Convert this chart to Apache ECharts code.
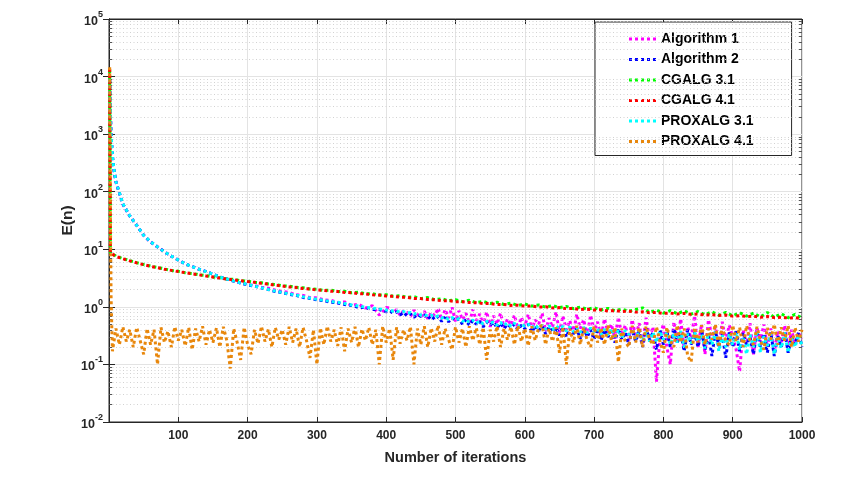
<!DOCTYPE html>
<html>
<head>
<meta charset="utf-8">
<script src="https://cdn.jsdelivr.net/npm/echarts@6/dist/echarts.min.js"></script>
<style>
  html, body { margin: 0; padding: 0; background: #fff; }
  #main { width: 843px; height: 492px; }
</style>
</head>
<body>
<div id="main"></div>
<script>
var names = ['Algorithm 1', 'Algorithm 2', 'CGALG 3.1', 'CGALG 4.1', 'PROXALG 3.1', 'PROXALG 4.1'];
var colors = ['#ff00ff', '#0000ff', '#00ff00', '#ff0000', '#00ffff', '#e8870c'];

// iterations of the first few points
var headA = [1, 2, 3, 5, 7];
var headC = [1, 2];
var headP = [1, 2, 3, 4];

// Algorithm 1: head, then n = 10..400 step 10, then n = 405..1000 step 5
var alg1Head = [9000, 2500, 980, 410, 245];
var alg1 = [148, 61, 38, 26, 17.5, 13.4, 11, 9, 7.6, 6.5, 5.6, 5.0, 4.5, 4.1, 3.7, 3.3, 3.05, 2.8, 2.6, 2.45,
  2.35, 2.2, 2.1, 1.95, 1.85, 1.78, 1.62, 1.58, 1.45, 1.44, 1.32, 1.3, 1.18, 1.22, 1.05, 1.12, 0.95, 1.05, 0.72, 0.98];
var alg1Tail = [0.95, 0.78, 0.9, 0.72, 0.86, 0.8, 0.68, 0.88, 0.74, 0.66,
  0.84, 0.62, 0.8, 0.7, 0.95, 0.6, 0.9, 0.64, 0.98, 0.56,
  0.85, 0.6, 0.78, 0.52, 0.9, 0.58, 0.75, 0.48, 0.82, 0.45,
  0.7, 0.5, 0.78, 0.44, 0.62, 0.48, 0.72, 0.42, 0.66, 0.46,
  0.75, 0.4, 0.6, 0.5, 0.78, 0.38, 0.64, 0.44, 0.82, 0.36,
  0.7, 0.4, 0.58, 0.34, 0.75, 0.42, 0.6, 0.32, 0.72, 0.38,
  0.55, 0.3, 0.62, 0.36, 0.5, 0.28, 0.66, 0.32, 0.48, 0.26,
  0.6, 0.3, 0.52, 0.22, 0.65, 0.28, 0.45, 0.05, 0.3, 0.5,
  0.2, 0.1, 0.55, 0.25, 0.62, 0.18, 0.45, 0.28, 0.7, 0.2,
  0.5, 0.15, 0.6, 0.3, 0.45, 0.2, 0.55, 0.26, 0.48, 0.3,
  0.18, 0.075, 0.4, 0.22, 0.52, 0.15, 0.44, 0.25, 0.5, 0.2,
  0.42, 0.16, 0.38, 0.24, 0.48, 0.18, 0.4, 0.22, 0.35, 0.28];

// Algorithm 2
var alg2Head = [9000, 2500, 980, 410, 245];
var alg2 = [148, 61, 38, 26, 17.5, 13.4, 11, 9, 7.6, 6.5, 5.6, 5.0, 4.5, 4.1, 3.7, 3.3, 3.05, 2.8, 2.6, 2.4,
  2.28, 2.12, 2.0, 1.85, 1.76, 1.65, 1.58, 1.46, 1.4, 1.32, 1.28, 1.2, 1.17, 1.1, 1.06, 0.98, 0.97, 0.9, 0.9, 0.82];
var alg2Tail = [0.85, 0.78, 0.82, 0.72, 0.8, 0.7, 0.76, 0.66, 0.74, 0.68,
  0.72, 0.62, 0.7, 0.6, 0.68, 0.56, 0.66, 0.55, 0.64, 0.58,
  0.62, 0.5, 0.6, 0.48, 0.58, 0.5, 0.56, 0.45, 0.55, 0.48,
  0.54, 0.43, 0.52, 0.42, 0.5, 0.44, 0.5, 0.4, 0.48, 0.42,
  0.5, 0.36, 0.47, 0.38, 0.46, 0.34, 0.45, 0.36, 0.44, 0.32,
  0.45, 0.3, 0.43, 0.34, 0.42, 0.28, 0.44, 0.3, 0.4, 0.27,
  0.42, 0.26, 0.4, 0.3, 0.38, 0.24, 0.42, 0.27, 0.36, 0.22,
  0.4, 0.25, 0.38, 0.2, 0.42, 0.27, 0.36, 0.18, 0.4, 0.22,
  0.38, 0.2, 0.42, 0.24, 0.35, 0.17, 0.4, 0.22, 0.36, 0.2,
  0.4, 0.18, 0.34, 0.14, 0.38, 0.21, 0.33, 0.13, 0.36, 0.2,
  0.4, 0.17, 0.35, 0.22, 0.3, 0.15, 0.38, 0.2, 0.34, 0.16,
  0.36, 0.14, 0.32, 0.2, 0.38, 0.16, 0.3, 0.22, 0.36, 0.2];

// CGALG 3.1: head, then n = 10..1000 step 10
var cg3Head = [13000, 8.8];
var cg3 = [7.6, 6.9, 6.35, 5.85, 5.45, 5.1, 4.85, 4.55, 4.3, 4.15, 3.9, 3.8, 3.6, 3.5, 3.3, 3.2, 3.05, 3.0, 2.85, 2.8,
  2.68, 2.62, 2.5, 2.45, 2.32, 2.28, 2.18, 2.15, 2.05, 2.03, 1.93, 1.95, 1.85, 1.86, 1.76, 1.8, 1.68, 1.7, 1.6, 1.63,
  1.53, 1.56, 1.46, 1.5, 1.39, 1.45, 1.33, 1.38, 1.28, 1.33, 1.23, 1.3, 1.18, 1.24, 1.14, 1.2, 1.1, 1.16, 1.06, 1.12,
  1.03, 1.08, 0.99, 1.05, 0.97, 1.02, 0.93, 0.99, 0.91, 0.96, 0.88, 0.94, 0.86, 0.91, 0.84, 0.9, 0.96, 0.8, 0.88, 0.78,
  0.86, 0.76, 0.85, 0.75, 0.83, 0.73, 0.82, 0.72, 0.8, 0.7, 0.79, 0.69, 0.78, 0.67, 0.8, 0.66, 0.76, 0.65, 0.74, 0.64];

// CGALG 4.1
var cg4Head = [13500, 8.7];
var cg4 = [7.5, 6.85, 6.3, 5.8, 5.4, 5.05, 4.8, 4.5, 4.3, 4.1, 3.92, 3.74, 3.6, 3.44, 3.3, 3.16, 3.04, 2.95, 2.84, 2.75,
  2.67, 2.56, 2.49, 2.38, 2.31, 2.22, 2.17, 2.08, 2.04, 1.96, 1.93, 1.87, 1.85, 1.78, 1.76, 1.7, 1.68, 1.62, 1.6, 1.54,
  1.53, 1.47, 1.46, 1.4, 1.39, 1.34, 1.33, 1.28, 1.28, 1.23, 1.23, 1.19, 1.18, 1.14, 1.14, 1.1, 1.1, 1.06, 1.07, 1.03,
  1.03, 0.99, 1.0, 0.96, 0.97, 0.93, 0.94, 0.9, 0.91, 0.88, 0.89, 0.85, 0.86, 0.83, 0.84, 0.81, 0.82, 0.79, 0.8, 0.77,
  0.78, 0.75, 0.77, 0.74, 0.75, 0.72, 0.73, 0.71, 0.72, 0.69, 0.7, 0.68, 0.69, 0.66, 0.68, 0.65, 0.66, 0.64, 0.65, 0.62];

// PROXALG 3.1: head, n = 10..400 step 10, n = 405..1000 step 5
var px3Head = [9000, 2600, 1000, 420, 250];
var px3 = [150, 62, 38, 26, 17.5, 13.5, 11, 9, 7.6, 6.5, 5.6, 5.0, 4.5, 4.1, 3.7, 3.3, 3.05, 2.8, 2.6, 2.45,
  2.3, 2.15, 2.0, 1.88, 1.78, 1.68, 1.6, 1.5, 1.42, 1.36, 1.3, 1.24, 1.2, 1.14, 1.08, 1.03, 0.99, 0.95, 0.92, 0.88];
var px3Tail = [0.88, 0.84, 0.86, 0.8, 0.83, 0.78, 0.8, 0.75, 0.77, 0.72,
  0.74, 0.69, 0.72, 0.66, 0.7, 0.64, 0.67, 0.6, 0.65, 0.6,
  0.62, 0.56, 0.6, 0.54, 0.59, 0.52, 0.57, 0.5, 0.56, 0.52,
  0.55, 0.48, 0.54, 0.47, 0.53, 0.46, 0.52, 0.45, 0.5, 0.46,
  0.5, 0.43, 0.49, 0.42, 0.48, 0.41, 0.47, 0.4, 0.47, 0.42,
  0.46, 0.38, 0.45, 0.37, 0.44, 0.36, 0.44, 0.35, 0.43, 0.37,
  0.42, 0.33, 0.41, 0.32, 0.42, 0.3, 0.4, 0.29, 0.39, 0.33,
  0.38, 0.28, 0.4, 0.26, 0.37, 0.25, 0.36, 0.24, 0.38, 0.27,
  0.36, 0.22, 0.35, 0.24, 0.38, 0.2, 0.34, 0.23, 0.36, 0.25,
  0.33, 0.19, 0.35, 0.22, 0.37, 0.17, 0.32, 0.2, 0.34, 0.22,
  0.36, 0.18, 0.3, 0.15, 0.33, 0.2, 0.38, 0.16, 0.31, 0.21,
  0.34, 0.15, 0.3, 0.19, 0.36, 0.16, 0.28, 0.2, 0.33, 0.21];

// PROXALG 4.1: head, then n = 5..1000 step 5
var px4Head = [14500, 40, 1.5, 0.45];
var px4 = [0.17, 0.42, 0.22, 0.45, 0.25, 0.4, 0.2, 0.44, 0.26, 0.15,
  0.42, 0.22, 0.4, 0.1, 0.44, 0.24, 0.38, 0.2, 0.45, 0.26,
  0.4, 0.21, 0.44, 0.18, 0.42, 0.25, 0.46, 0.22, 0.4, 0.24,
  0.43, 0.2, 0.45, 0.26, 0.085, 0.42, 0.24, 0.12, 0.44, 0.22,
  0.15, 0.4, 0.23, 0.46, 0.25, 0.41, 0.2, 0.44, 0.27, 0.4,
  0.22, 0.45, 0.24, 0.42, 0.2, 0.44, 0.26, 0.13, 0.4, 0.1,
  0.43, 0.22, 0.46, 0.25, 0.4, 0.21, 0.44, 0.17, 0.42, 0.24,
  0.45, 0.2, 0.41, 0.26, 0.44, 0.22, 0.4, 0.1, 0.46, 0.24,
  0.42, 0.12, 0.44, 0.23, 0.4, 0.26, 0.45, 0.1, 0.42, 0.22,
  0.46, 0.2, 0.43, 0.25, 0.48, 0.22, 0.42, 0.27, 0.18, 0.45,
  0.24, 0.42, 0.2, 0.46, 0.26, 0.43, 0.22, 0.44, 0.12, 0.4,
  0.25, 0.46, 0.2, 0.42, 0.27, 0.45, 0.22, 0.47, 0.25, 0.42,
  0.21, 0.46, 0.26, 0.43, 0.48, 0.22, 0.42, 0.25, 0.44, 0.16,
  0.45, 0.1, 0.42, 0.24, 0.47, 0.22, 0.44, 0.26, 0.2, 0.46,
  0.24, 0.43, 0.22, 0.48, 0.26, 0.44, 0.11, 0.42, 0.25, 0.2,
  0.47, 0.24, 0.44, 0.2, 0.46, 0.27, 0.22, 0.45, 0.25, 0.16,
  0.44, 0.26, 0.2, 0.48, 0.24, 0.42, 0.14, 0.11, 0.44, 0.24,
  0.48, 0.22, 0.42, 0.27, 0.5, 0.2, 0.45, 0.25, 0.22, 0.48,
  0.25, 0.44, 0.2, 0.47, 0.26, 0.22, 0.45, 0.26, 0.18, 0.43,
  0.27, 0.5, 0.22, 0.44, 0.26, 0.47, 0.2, 0.44, 0.25, 0.4];

// axis ticks
var xTicks = [0, 100, 200, 300, 400, 500, 600, 700, 800, 900, 1000];
var decades = [0.01, 0.1, 1, 10, 100, 1000, 10000];
var minorMult = [2, 3, 4, 5, 6, 7, 8, 9];

// head: iterations + values; then runs of [first n, step, values]
function build(head, headY, runs) {
  var out = [];
  for (var i = 0; i < head.length; i++) out.push([head[i], headY[i]]);
  runs.forEach(function (r) {
    for (var j = 0; j < r[2].length; j++) out.push([r[0] + r[1] * j, r[2][j]]);
  });
  return out;
}

var seriesData = [
  build(headA, alg1Head, [[10, 10, alg1], [405, 5, alg1Tail]]),
  build(headA, alg2Head, [[10, 10, alg2], [405, 5, alg2Tail]]),
  build(headC, cg3Head, [[10, 10, cg3]]),
  build(headC, cg4Head, [[10, 10, cg4]]),
  build(headA, px3Head, [[10, 10, px3], [405, 5, px3Tail]]),
  build(headP, px4Head, [[5, 5, px4]])
];

// minor grid (dotted) and minor ticks on left / right frame
var minorLines = [], minorTicks = [];
decades.forEach(function (d) {
  minorMult.forEach(function (m) {
    var v = d * m;
    minorLines.push({ yAxis: v });
    minorTicks.push([{ coord: [0, v] }, { coord: [4.5, v] }]);
    minorTicks.push([{ coord: [995.5, v] }, { coord: [1000, v] }]);
  });
});

var font = 'Liberation Sans, Arial, Helvetica, sans-serif';
var axisCol = '#262626';
var dotIcon = 'path://M0,0h3v3h-3zM6,0h3v3h-3zM12,0h3v3h-3zM18,0h3v3h-3zM24,0h3v3h-3z';

var series = names.map(function (nm, i) {
  return {
    name: nm,
    type: 'line',
    data: seriesData[i],
    symbol: 'none',
    z: 3 + i,
    lineStyle: { color: colors[i], width: 3, type: [3, 3], cap: 'butt' },
    itemStyle: { color: colors[i] }
  };
});
series.push({
  type: 'line',
  data: [],
  z: 1,
  silent: true,
  markLine: {
    silent: true,
    symbol: 'none',
    label: { show: false },
    lineStyle: { color: '#d2d2d2', width: 1, type: [1, 2.5] },
    data: minorLines
  }
});
series.push({
  type: 'line',
  data: [],
  z: 10,
  silent: true,
  markLine: {
    silent: true,
    symbol: 'none',
    label: { show: false },
    lineStyle: { color: '#555', width: 1, type: 'solid' },
    data: minorTicks
  }
});

var myChart = echarts.init(document.getElementById('main'));
var option = {
  animation: false,
  backgroundColor: '#fff',
  grid: { left: 109, right: 41, top: 19, bottom: 70, show: true, borderColor: axisCol, borderWidth: 1 },
  legend: {
    data: names,
    orient: 'vertical',
    left: 595,
    top: 22,
    icon: dotIcon,
    itemWidth: 27,
    itemHeight: 3,
    itemGap: 4.5,
    padding: [9, 38, 6, 34],
    backgroundColor: '#fff',
    borderColor: axisCol,
    borderWidth: 1,
    textStyle: { fontFamily: font, fontWeight: 'bold', fontSize: 14, color: '#000', lineHeight: 16 }
  },
  xAxis: [{
    type: 'value',
    min: 0,
    max: 1000,
    interval: 100,
    name: 'Number of iterations',
    nameLocation: 'middle',
    nameGap: 28,
    nameMoveOverlap: false,
    nameTextStyle: { fontFamily: font, fontWeight: 'bold', fontSize: 14.5, color: axisCol },
    axisLine: { show: true, lineStyle: { color: axisCol } },
    axisTick: { inside: true, length: 5, lineStyle: { color: axisCol } },
    axisLabel: {
      fontFamily: font, fontWeight: 'bold', fontSize: 12, color: axisCol, margin: 8,
      formatter: function (v) { return xTicks.indexOf(v) > 0 ? String(v) : ''; }
    },
    splitLine: { show: true, lineStyle: { color: '#e3e3e3', width: 1 } }
  }, {
    type: 'value',
    position: 'top',
    min: 0,
    max: 1000,
    interval: 100,
    axisLine: { show: true, lineStyle: { color: axisCol } },
    axisTick: { inside: true, length: 5, lineStyle: { color: axisCol } },
    axisLabel: { show: false },
    splitLine: { show: false }
  }],
  yAxis: [{
    type: 'log',
    logBase: 10,
    min: 0.01,
    max: 100000,
    interval: 1,
    name: 'E(n)',
    nameLocation: 'middle',
    nameGap: 33,
    nameMoveOverlap: false,
    nameRotate: 90,
    nameTextStyle: { fontFamily: font, fontWeight: 'bold', fontSize: 15.5, color: axisCol },
    axisLine: { show: true, lineStyle: { color: axisCol } },
    axisTick: { inside: true, length: 6, lineStyle: { color: axisCol } },
    axisLabel: {
      margin: 6,
      formatter: function (v) {
        var e = Math.round(Math.log(v) / Math.LN10);
        return '{b|10}{s|' + e + '}';
      },
      rich: {
        b: { fontFamily: font, fontWeight: 'bold', fontSize: 12.5, color: axisCol, verticalAlign: 'bottom', lineHeight: 18 },
        s: { fontFamily: font, fontWeight: 'bold', fontSize: 9, color: axisCol, verticalAlign: 'top', lineHeight: 18 }
      }
    },
    splitLine: { show: true, lineStyle: { color: '#e3e3e3', width: 1 } }
  }, {
    type: 'log',
    logBase: 10,
    min: 0.01,
    max: 100000,
    interval: 1,
    position: 'right',
    axisLine: { show: true, lineStyle: { color: axisCol } },
    axisTick: { inside: true, length: 6, lineStyle: { color: axisCol } },
    axisLabel: { show: false },
    splitLine: { show: false }
  }],
  series: series
};
myChart.setOption(option);
</script>
</body>
</html>
